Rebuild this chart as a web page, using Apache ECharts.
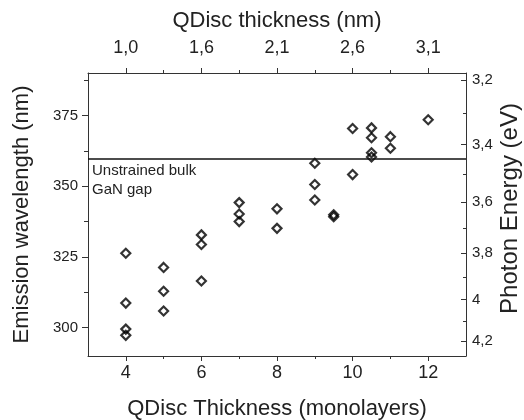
<!DOCTYPE html>
<html><head><meta charset="utf-8">
<script src="https://cdn.jsdelivr.net/npm/echarts@6/dist/echarts.min.js"></script>
<style>html,body{margin:0;padding:0;background:#fff}#c{width:524px;height:420px}</style>
</head><body><div id="c"></div>
<script>
// ---- data ----
const thicknessML = [4,4,4,4, 5,5,5, 6,6,6, 7,7,7, 8,8, 9,9,9, 9.5,9.5, 10,10, 10.5,10.5,10.5,10.5, 11,11, 12];
const wavelengthNm = [326.3,308.7,299.5,297.3, 321.3,312.9,305.9, 332.8,329.4,316.5, 344.2,340.2,337.5, 342.0,335.1, 358.1,350.6,345.1, 339.9,339.2, 370.4,354.1, 370.6,367.1,361.8,360.3, 367.5,363.4, 373.5];
const bottomTicks = [4,6,8,10,12];
const bottomMinor = [5,7,9,11];
const topTickLabels = ['1,0','1,6','2,1','2,6','3,1'];
const leftTicks = [300,325,350,375];
const leftMinor = [312.5,337.5,362.5,387.5];
const energyTicks = [3.2,3.4,3.6,3.8,4.0,4.2];
const energyLabels = ['3,2','3,4','3,6','3,8','4','4,2'];
const energyMinor = [3.3,3.5,3.7,3.9,4.1];
const gapWavelength = 359.6;
const gapLabel = 'Unstrained bulk\nGaN gap';
const HC = 1240;
const xRange = [3,13];
const yRange = [290,390];

const FONT = 'Liberation Sans, Arial, sans-serif';
const TXT = '#222';
const LINE = '#333';
const energyPos = energyTicks.map(e => HC / e);
const energyMinorPos = energyMinor.map(e => HC / e);

function xAxisDef(pos, ticks, len, showLine, label) {
  return {
    type: 'value', position: pos, min: xRange[0], max: xRange[1],
    axisLine: { show: showLine, onZero: false, lineStyle: { color: LINE, width: 1 } },
    axisTick: { show: true, inside: false, length: len, customValues: ticks, lineStyle: { color: LINE, width: 1 } },
    axisLabel: label || { show: false },
    splitLine: { show: false }
  };
}
function yAxisDef(pos, ticks, len, inside, showLine, label) {
  return {
    type: 'value', position: pos, min: yRange[0], max: yRange[1],
    axisLine: { show: showLine, onZero: false, lineStyle: { color: LINE, width: 1 } },
    axisTick: { show: true, inside: inside, length: len, customValues: ticks, lineStyle: { color: LINE, width: 1 } },
    axisLabel: label || { show: false },
    splitLine: { show: false }
  };
}

const xBottom = xAxisDef('bottom', bottomTicks, 5, true, {
  show: true, customValues: bottomTicks, fontSize: 18, fontFamily: FONT, color: TXT, margin: 8
});
xBottom.name = 'QDisc Thickness (monolayers)';
xBottom.nameLocation = 'middle';
xBottom.nameGap = 42;
xBottom.nameMoveOverlap = false;
xBottom.nameTextStyle = { fontSize: 22, fontFamily: FONT, color: TXT };

const xTop = xAxisDef('top', bottomTicks, 5, true, {
  show: true, customValues: bottomTicks, fontSize: 18, fontFamily: FONT, color: TXT, margin: 16,
  formatter: v => topTickLabels[bottomTicks.indexOf(v)]
});
xTop.name = 'QDisc thickness (nm)';
xTop.nameLocation = 'middle';
xTop.nameGap = 41;
xTop.nameMoveOverlap = false;
xTop.nameTextStyle = { fontSize: 22, fontFamily: FONT, color: TXT };

const yLeft = yAxisDef('left', leftTicks, 6, false, true, {
  show: true, customValues: leftTicks, fontSize: 15, fontFamily: FONT, color: TXT, margin: 10
});
yLeft.name = 'Emission wavelength (nm)';
yLeft.nameLocation = 'middle';
yLeft.nameGap = 55;
yLeft.nameRotate = 90;
yLeft.nameMoveOverlap = false;
yLeft.nameTextStyle = { fontSize: 22, fontFamily: FONT, color: TXT };

const yRight = yAxisDef('right', energyPos, 5, true, true, {
  show: true, customValues: energyPos, fontSize: 15, fontFamily: FONT, color: TXT, margin: 6,
  formatter: v => {
    const i = energyPos.findIndex(p => Math.abs(p - v) < 1e-6);
    return i >= 0 ? energyLabels[i] : '';
  }
});
yRight.name = 'Photon Energy (eV)';
yRight.nameLocation = 'middle';
yRight.nameGap = 32;
yRight.nameRotate = 90;
yRight.nameMoveOverlap = false;
yRight.nameTextStyle = { fontSize: 24, fontFamily: FONT, color: TXT, padding: [0, 0, 0, 12] };

const option = {
  animation: false,
  backgroundColor: '#fff',
  grid: { left: 88, right: 58, top: 73, bottom: 64, containLabel: false, outerBoundsMode: 'none' },
  xAxis: [
    xBottom,
    xTop,
    xAxisDef('bottom', bottomMinor, 3, false),
    xAxisDef('top', bottomMinor, 3, false)
  ],
  yAxis: [
    yLeft,
    yRight,
    yAxisDef('left', leftMinor, 4, false, false),
    yAxisDef('right', energyMinorPos, 3, true, false)
  ],
  series: [{
    type: 'scatter',
    xAxisIndex: 0, yAxisIndex: 0,
    data: thicknessML.map((x, i) => [x, wavelengthNm[i]]),
    symbol: 'diamond',
    symbolSize: 9,
    itemStyle: { color: 'rgba(0,0,0,0)', borderColor: '#000', borderWidth: 2.2 },
    emphasis: { disabled: true },
    markLine: {
      silent: true, symbol: ['none', 'none'], animation: false,
      lineStyle: { color: '#111', width: 1.5, type: 'solid' },
      label: {
        show: true, position: 'insideStartBottom', formatter: gapLabel,
        fontSize: 15, lineHeight: 19, fontFamily: FONT, color: TXT, align: 'left', distance: [4, 2]
      },
      data: [{ yAxis: gapWavelength }]
    }
  }]
};
const chart = echarts.init(document.getElementById('c'), null, { renderer: 'canvas' });
chart.setOption(option);
</script></body></html>
